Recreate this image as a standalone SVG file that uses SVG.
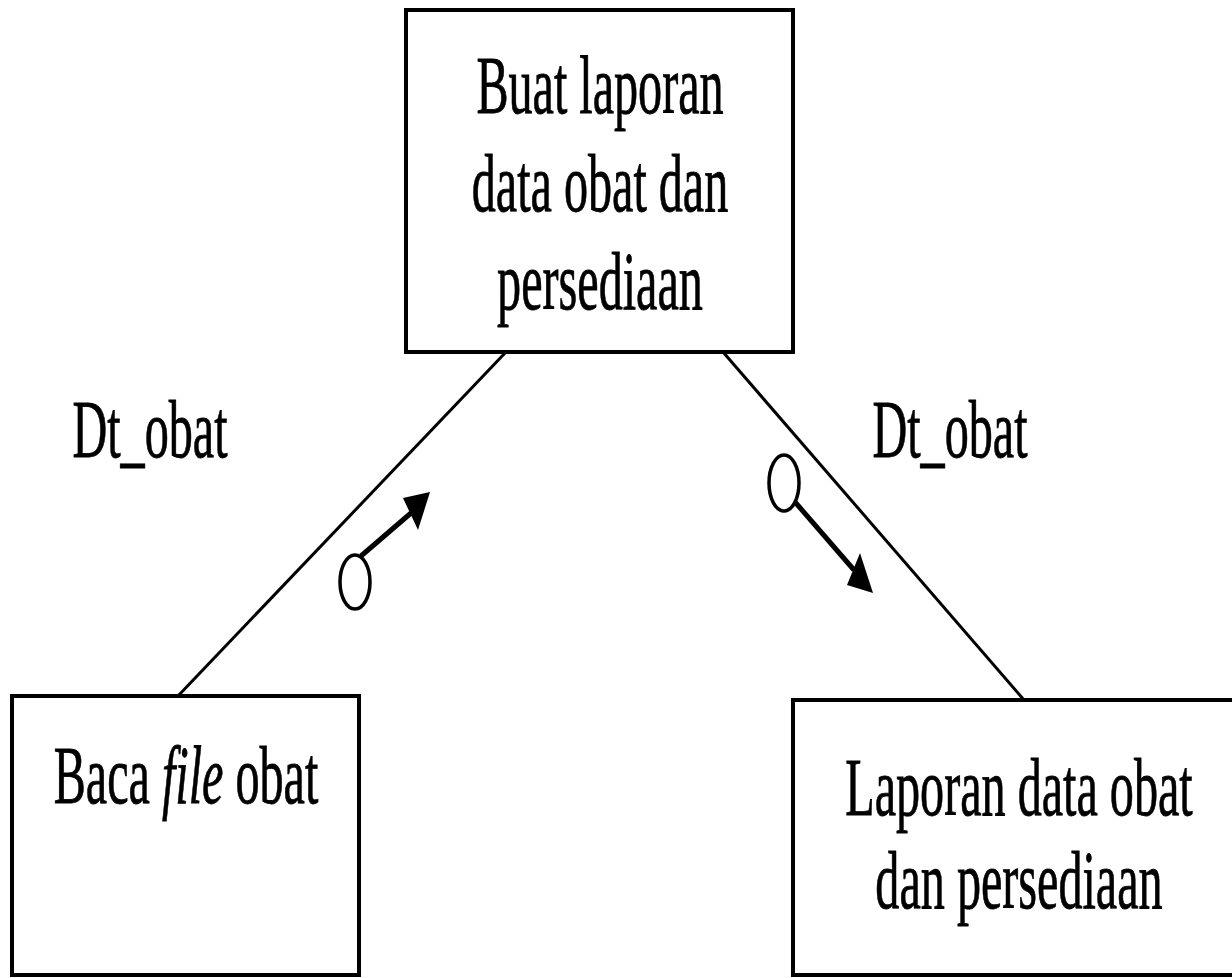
<svg xmlns="http://www.w3.org/2000/svg" width="1232" height="978" viewBox="0 0 1232 978">
<style>
.box{fill:#fff;stroke:#000;stroke-width:4}
.ln{stroke:#000;stroke-width:3;fill:none}
.shaft{stroke:#000;stroke-width:5;fill:none}
.dot{fill:#fff;stroke:#000;stroke-width:3.5}
.head{fill:#000}
text{font-family:"Liberation Serif","Times New Roman",serif;font-size:83px;fill:#000;stroke:#000;stroke-width:0.8;text-anchor:middle}
</style>
<rect width="1232" height="978" fill="#fff"/>
<g id="connectors">
<line class="ln" x1="506" y1="352" x2="178" y2="696"/>
<line class="ln" x1="723" y1="352" x2="1024" y2="700"/>
<g id="flow-left">
<line class="shaft" x1="361" y1="556" x2="411" y2="513"/>
<polygon class="head" points="430,492 403,498 418,530"/>
<ellipse class="dot" cx="355" cy="582" rx="15" ry="27"/>
<text transform="translate(150,457) scale(0.58,1)">Dt_obat</text>
</g>
<g id="flow-right">
<line class="shaft" x1="795" y1="502" x2="854" y2="570"/>
<polygon class="head" points="873,593 860,553 847,585"/>
<ellipse class="dot" cx="784" cy="483" rx="15" ry="28"/>
<text transform="translate(950,457) scale(0.58,1)">Dt_obat</text>
</g>
</g>
<g id="node-buat">
<rect class="box" x="406" y="10" width="387" height="342"/>
<text transform="translate(600,113) scale(0.58,1)">Buat laporan</text>
<text transform="translate(600,211) scale(0.58,1)">data obat dan</text>
<text transform="translate(600,309) scale(0.58,1)">persediaan</text>
</g>
<g id="node-baca">
<rect class="box" x="12" y="696" width="347" height="279"/>
<text transform="translate(186,803) scale(0.58,1)">Baca <tspan font-style="italic">file</tspan> obat</text>
</g>
<g id="node-laporan">
<rect class="box" x="793" y="700" width="452" height="275"/>
<text transform="translate(1019,815) scale(0.58,1)">Laporan data obat</text>
<text transform="translate(1019,908) scale(0.58,1)">dan persediaan</text>
</g>
</svg>
